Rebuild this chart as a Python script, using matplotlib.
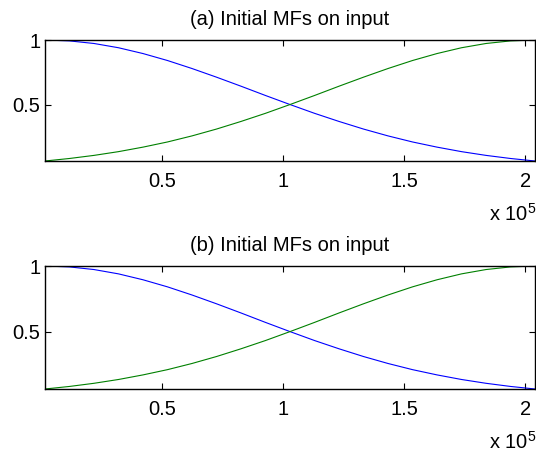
import matplotlib
matplotlib.use('Agg')
import matplotlib.pyplot as plt

plt.rcParams['font.family'] = ['Liberation Sans', 'DejaVu Sans']
plt.rcParams['mathtext.default'] = 'regular'

# input values (raw units) and MF degrees
x_input = [1500, 11625, 21750, 31875, 42000, 52125, 62250, 72375, 82500, 92625,
           102750, 112875, 123000, 133125, 143250, 153375, 163500, 173625,
           183750, 193875, 204000]
mf1 = [1.000, 0.993, 0.973, 0.940, 0.895, 0.841, 0.779, 0.712, 0.642, 0.570,
       0.500, 0.432, 0.369, 0.310, 0.257, 0.210, 0.170, 0.135, 0.106, 0.082,
       0.0625]
mf2 = [0.0625, 0.082, 0.106, 0.135, 0.170, 0.210, 0.257, 0.310, 0.369, 0.432,
       0.500, 0.570, 0.642, 0.712, 0.779, 0.841, 0.895, 0.940, 0.973, 0.993,
       1.000]
titles = ['(a) Initial MFs on input', '(b) Initial MFs on input']
xticks = [0.5, 1, 1.5, 2]
xticklabels = ['0.5', '1', '1.5', '2']
yticks = [0.5, 1]
yticklabels = ['0.5', '1']

fs = 14.5
fig = plt.figure(figsize=(5.36, 4.58), dpi=100)
W, H = 536, 458
boxes = [(45, 40, 535, 161), (45, 266, 535, 389)]  # left, top, right, bottom px

xs = [v / 1e5 for v in x_input]
for i, (l, t, r, b) in enumerate(boxes):
    ax = fig.add_axes([l / W, 1 - b / H, (r - l) / W, (b - t) / H])
    ax.plot(xs, mf1, color='#0000ff', lw=0.8)
    ax.plot(xs, mf2, color='#008000', lw=0.8)
    ax.set_xlim(xs[0], xs[-1])
    ax.set_ylim(min(mf1), 1)
    ax.set_xticks(xticks)
    ax.set_xticklabels(xticklabels)
    ax.set_yticks(yticks)
    ax.set_yticklabels(yticklabels)
    ax.tick_params(axis='both', direction='in', top=True, right=True,
                   length=4, width=0.8, labelsize=fs)
    ax.tick_params(axis='x', pad=8)
    ax.tick_params(axis='y', pad=3.5)
    for s in ax.spines.values():
        s.set_linewidth(1.0)
    ax.set_title(titles[i], fontsize=fs, pad=11)
    base = b + 60
    fig.text(536 / W, 1 - base / H, r'x 10$^{5}$', ha='right', va='baseline',
             fontsize=fs)

fig.savefig('out.png', dpi=100)
